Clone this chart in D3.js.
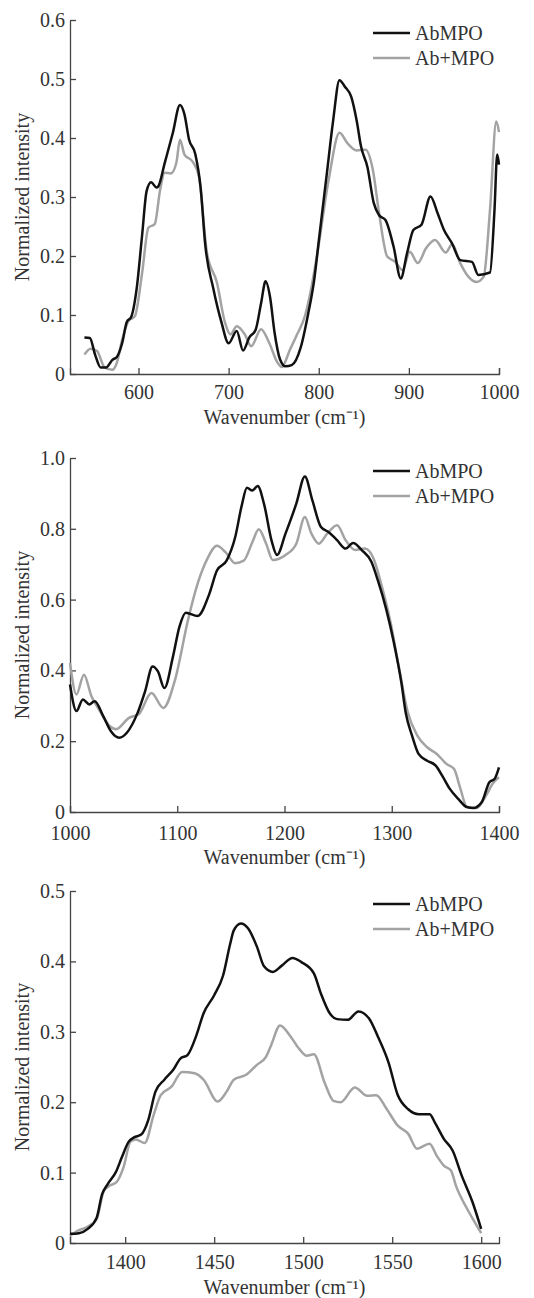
<!DOCTYPE html>
<html lang="en">
<head>
<meta charset="UTF-8">
<title>Normalized intensity spectra</title>
<script src="https://d3js.org/d3.v7.min.js"></script>
<style>
    body { margin: 0; background: #fff; }
    svg text { font-family: "Liberation Serif", "Times New Roman", serif; fill: #333; }
    .axis path, .axis line { stroke: #444; stroke-width: 1.3; }
</style>
</head>
<body>
<div id="chart"></div>
<script>
// series labels
const seriesNames = ["AbMPO", "Ab+MPO"];
const seriesColors = ["#111111", "#a3a3a3"];

// panel 1 (524-1000 cm-1)
const abmpo1 = [[540,0.062],[546,0.061],[552,0.032],[558,0.011],[564,0.011],[571,0.024],[576,0.029],[582,0.053],[587,0.088],[592,0.097],[598,0.145],[604,0.235],[609,0.31],[614,0.325],[620,0.316],[622,0.318],[629,0.357],[638,0.408],[646,0.456],[651,0.44],[656,0.398],[663,0.373],[669,0.315],[674,0.22],[683,0.145],[692,0.088],[700,0.052],[709,0.073],[716,0.04],[723,0.062],[730,0.075],[736,0.12],[741,0.157],[746,0.13],[751,0.07],[757,0.025],[763,0.013],[770,0.015],[780,0.045],[788,0.1],[795,0.16],[800,0.225],[809,0.34],[816,0.43],[823,0.498],[829,0.487],[836,0.47],[842,0.43],[847,0.385],[854,0.351],[861,0.29],[867,0.269],[874,0.261],[883,0.216],[891,0.162],[898,0.205],[905,0.244],[914,0.253],[924,0.301],[932,0.272],[939,0.244],[948,0.221],[957,0.193],[970,0.19],[977,0.168],[990,0.172],[995,0.278],[998,0.372],[1000,0.355]];
const abplus1 = [[540,0.033],[547,0.043],[554,0.039],[562,0.012],[571,0.007],[576,0.019],[582,0.059],[589,0.09],[596,0.098],[604,0.171],[611,0.248],[618,0.254],[624,0.312],[629,0.341],[636,0.34],[642,0.358],[646,0.397],[651,0.372],[660,0.36],[667,0.335],[676,0.205],[687,0.155],[696,0.087],[702,0.067],[709,0.081],[718,0.067],[725,0.047],[736,0.076],[745,0.053],[754,0.02],[759,0.012],[768,0.041],[775,0.064],[785,0.1],[791,0.14],[798,0.2],[811,0.329],[823,0.409],[832,0.391],[842,0.379],[852,0.38],[860,0.346],[867,0.272],[876,0.199],[885,0.19],[893,0.176],[901,0.207],[910,0.188],[919,0.213],[929,0.227],[941,0.206],[948,0.22],[957,0.188],[966,0.165],[975,0.156],[983,0.165],[990,0.278],[997,0.428],[1000,0.41]];

// panel 2 (1000-1400 cm-1)
const abmpo2 = [[1000,0.36],[1006,0.285],[1012,0.318],[1018,0.304],[1023,0.313],[1031,0.271],[1038,0.229],[1046,0.21],[1053,0.224],[1063,0.28],[1070,0.341],[1077,0.411],[1082,0.397],[1088,0.35],[1096,0.439],[1102,0.523],[1108,0.563],[1119,0.554],[1130,0.617],[1137,0.682],[1146,0.71],[1154,0.776],[1160,0.864],[1165,0.916],[1170,0.908],[1175,0.921],[1181,0.869],[1188,0.766],[1193,0.726],[1201,0.787],[1211,0.871],[1219,0.948],[1226,0.88],[1234,0.805],[1241,0.791],[1249,0.768],[1257,0.744],[1264,0.76],[1272,0.74],[1281,0.707],[1287,0.655],[1295,0.571],[1302,0.478],[1309,0.365],[1313,0.281],[1319,0.215],[1325,0.164],[1333,0.145],[1341,0.131],[1347,0.103],[1354,0.066],[1362,0.037],[1370,0.014],[1376,0.011],[1384,0.028],[1391,0.084],[1396,0.094],[1400,0.126]];
const abplus2 = [[1000,0.421],[1006,0.332],[1013,0.388],[1020,0.327],[1027,0.29],[1037,0.243],[1043,0.234],[1055,0.266],[1064,0.276],[1076,0.336],[1087,0.294],[1098,0.374],[1110,0.542],[1119,0.645],[1128,0.715],[1137,0.752],[1145,0.734],[1154,0.703],[1162,0.71],[1170,0.762],[1176,0.799],[1183,0.757],[1189,0.712],[1201,0.726],[1211,0.758],[1219,0.833],[1225,0.787],[1232,0.758],[1240,0.787],[1249,0.81],[1257,0.768],[1266,0.74],[1275,0.744],[1283,0.716],[1290,0.646],[1299,0.534],[1307,0.403],[1315,0.281],[1324,0.215],[1333,0.183],[1342,0.164],[1351,0.136],[1358,0.122],[1364,0.066],[1370,0.014],[1379,0.011],[1388,0.047],[1394,0.08],[1400,0.098]];

// panel 3 (1369-1610 cm-1)
const abmpo3 = [[1369,0.013],[1374,0.014],[1379,0.02],[1384,0.036],[1387,0.069],[1390,0.083],[1395,0.102],[1398,0.121],[1402,0.144],[1405,0.15],[1409,0.154],[1413,0.175],[1417,0.215],[1422,0.232],[1427,0.246],[1431,0.262],[1435,0.267],[1440,0.295],[1444,0.326],[1450,0.352],[1455,0.38],[1459,0.425],[1461,0.444],[1465,0.454],[1469,0.447],[1474,0.421],[1478,0.393],[1483,0.385],[1488,0.394],[1494,0.405],[1499,0.399],[1506,0.383],[1510,0.354],[1515,0.326],[1519,0.318],[1525,0.317],[1531,0.329],[1537,0.319],[1542,0.293],[1548,0.256],[1553,0.211],[1559,0.19],[1565,0.183],[1571,0.183],[1574,0.171],[1579,0.148],[1584,0.131],[1589,0.096],[1595,0.059],[1600,0.02]];
const abplus3 = [[1369,0.01],[1373,0.017],[1378,0.022],[1384,0.034],[1388,0.074],[1391,0.081],[1395,0.086],[1399,0.107],[1403,0.144],[1406,0.147],[1411,0.142],[1416,0.182],[1420,0.21],[1426,0.222],[1432,0.243],[1439,0.241],[1444,0.232],[1452,0.201],[1457,0.215],[1461,0.232],[1468,0.239],[1474,0.253],[1479,0.264],[1482,0.281],[1487,0.309],[1493,0.293],[1498,0.275],[1502,0.266],[1506,0.268],[1512,0.228],[1517,0.202],[1521,0.2],[1529,0.221],[1536,0.209],[1541,0.21],[1547,0.19],[1553,0.167],[1559,0.155],[1564,0.134],[1571,0.141],[1575,0.124],[1579,0.11],[1583,0.103],[1586,0.08],[1592,0.049],[1596,0.031],[1600,0.014]];

// axis domains and ticks
const xDomains = [[524, 1000], [1000, 1400], [1369, 1610]];
const xTicks = [[600, 700, 800, 900, 1000], [1000, 1100, 1200, 1300, 1400], [1400, 1450, 1500, 1550, 1600]];
const yMax = [0.6, 1.0, 0.5];
const yTicks = [[0, 0.1, 0.2, 0.3, 0.4, 0.5, 0.6], [0, 0.2, 0.4, 0.6, 0.8, 1.0], [0, 0.1, 0.2, 0.3, 0.4, 0.5]];
const xTitle = "Wavenumber (cm\u207B\u00B9)";
const yTitle = "Normalized intensity";

const panels = [
    { series: [abmpo1, abplus1], top: 20, bottom: 374, tickDy: 11, titleDy: 50 },
    { series: [abmpo2, abplus2], top: 458, bottom: 812, tickDy: 14, titleDy: 52 },
    { series: [abmpo3, abplus3], top: 891, bottom: 1243, tickDy: 12, titleDy: 51 }
];

const W = 534, H = 1298;
const left = 70, right = 499;
const fontSize = "20px";

const svg = d3.select("#chart").append("svg")
    .attr("width", W)
    .attr("height", H);

panels.forEach(function (p, i) {
    const g = svg.append("g");

    const x = d3.scaleLinear().domain(xDomains[i]).range([left, right]);
    const y = d3.scaleLinear().domain([0, yMax[i]]).range([p.bottom, p.top]);

    // x axis, ticks point inward (outer tick marks the axis end)
    const xa = g.append("g")
        .attr("class", "axis")
        .attr("transform", "translate(0," + p.bottom + ")")
        .call(d3.axisBottom(x).tickValues(xTicks[i]).tickSize(-6).tickSizeOuter(-6).tickFormat(d3.format("d")));
    xa.selectAll("text").attr("y", p.tickDy).attr("dy", "0.71em").style("font-size", fontSize);

    // y axis
    const ya = g.append("g")
        .attr("class", "axis")
        .attr("transform", "translate(" + left + ",0)")
        .call(d3.axisLeft(y).tickValues(yTicks[i]).tickSize(-6).tickSizeOuter(0)
            .tickFormat(function (d) { return d === 0 ? "0" : d3.format(".1f")(d); }));
    ya.selectAll("text").attr("x", -5).style("font-size", fontSize);

    // titles
    g.append("text")
        .attr("x", (left + right) / 2)
        .attr("y", p.bottom + p.titleDy)
        .attr("text-anchor", "middle")
        .style("font-size", fontSize)
        .text(xTitle);

    g.append("text")
        .attr("transform", "translate(29," + (p.top + p.bottom) / 2 + ") rotate(-90)")
        .attr("text-anchor", "middle")
        .style("font-size", fontSize)
        .text(yTitle);

    // curves
    const line = d3.line()
        .x(function (d) { return x(d[0]); })
        .y(function (d) { return y(d[1]); })
        .curve(d3.curveMonotoneX);

    // draw gray under black
    [1, 0].forEach(function (k) {
        g.append("path")
            .datum(p.series[k])
            .attr("fill", "none")
            .attr("stroke", seriesColors[k])
            .attr("stroke-width", 2.5)
            .attr("stroke-linejoin", "round")
            .attr("d", line);
    });

    // legend
    seriesNames.forEach(function (name, k) {
        const ly = p.top + 13 + k * 25;
        g.append("line")
            .attr("x1", 373).attr("x2", 410)
            .attr("y1", ly).attr("y2", ly)
            .attr("stroke", seriesColors[k])
            .attr("stroke-width", 2.5);
        g.append("text")
            .attr("x", 415)
            .attr("y", ly)
            .attr("dy", "0.35em")
            .style("font-size", fontSize)
            .text(name);
    });
});
</script>
</body>
</html>
